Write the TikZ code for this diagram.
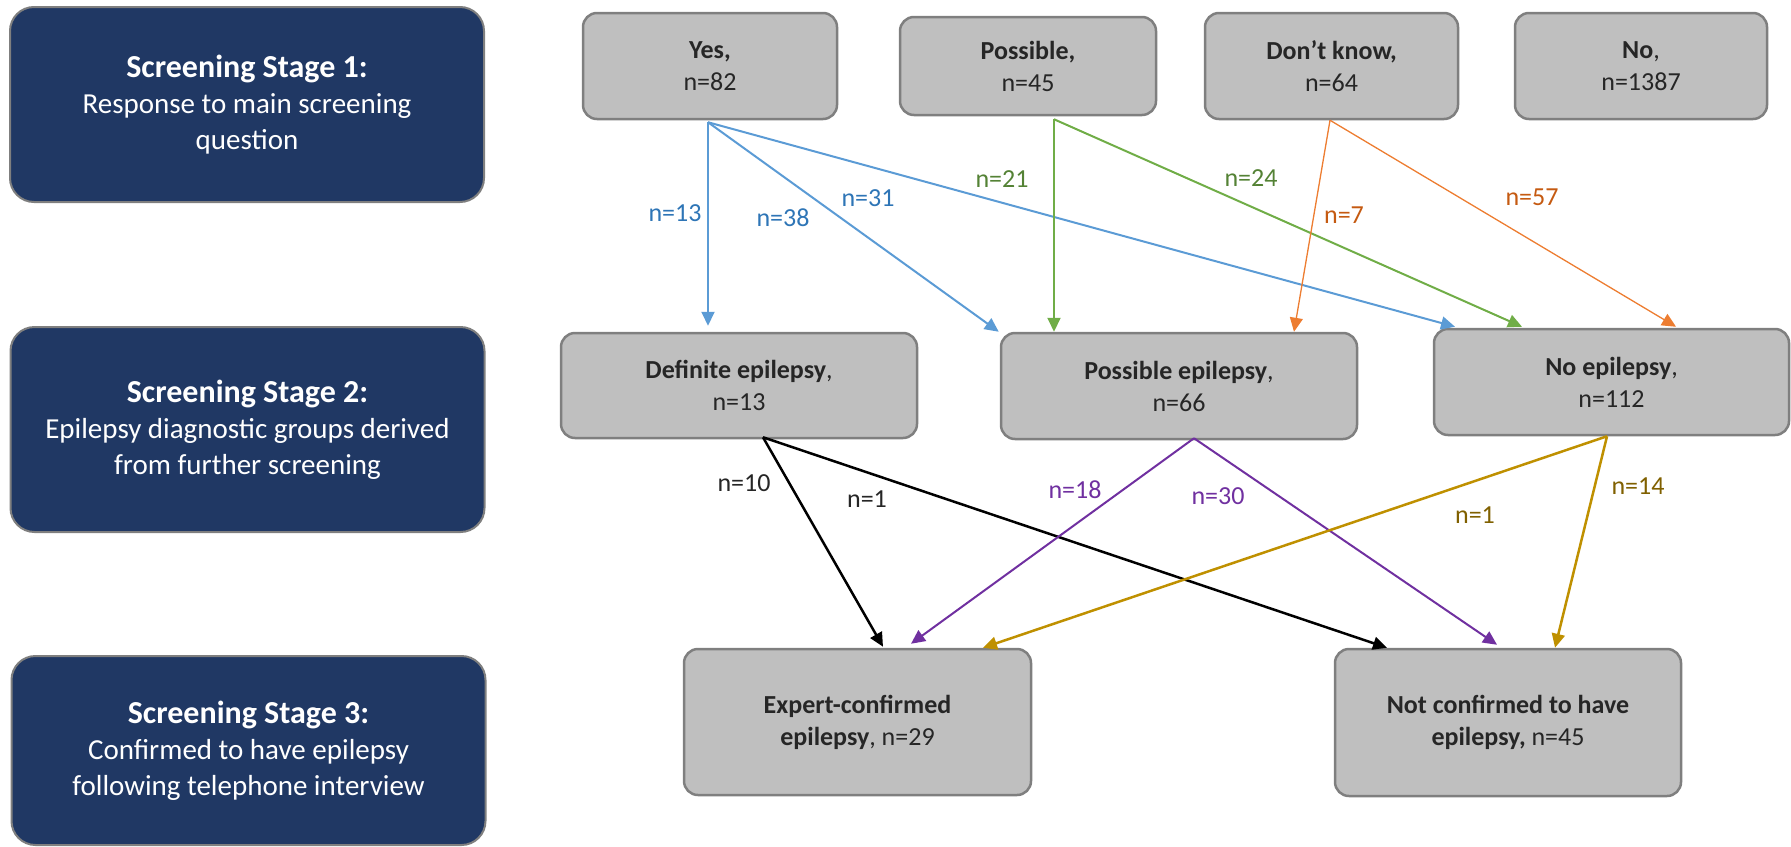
\documentclass[tikz,border=0pt]{standalone}
\usepackage{fontspec}
\setmainfont{Carlito}
\usetikzlibrary{arrows.meta}
\definecolor{navy}{HTML}{203864}
\definecolor{navyborder}{HTML}{7F7F7F}
\definecolor{gfill}{HTML}{BFBFBF}
\definecolor{gborder}{HTML}{7F7F7F}
\definecolor{gtext}{HTML}{262626}
\definecolor{cblue}{HTML}{5B9BD5}
\definecolor{tblue}{HTML}{2E75B6}
\definecolor{cgreen}{HTML}{70AD47}
\definecolor{tgreen}{HTML}{548235}
\definecolor{corange}{HTML}{ED7D31}
\definecolor{torange}{HTML}{C55A11}
\definecolor{cpurple}{HTML}{7030A0}
\definecolor{cgold}{HTML}{BF9000}
\definecolor{tgold}{HTML}{806000}
\newcommand{\stagetitle}[1]{{\fontsize{32}{36}\selectfont\bfseries #1}}
\tikzset{
  stagebox/.style={draw=navyborder, line width=2pt, fill=navy, rounded corners=24pt,
    minimum width=474pt, text=white, align=center, inner sep=0pt,
    font=\fontsize{29}{36}\selectfont},
  gbox/.style={draw=gborder, line width=2.5pt, fill=gfill, rounded corners=14pt,
    align=center, inner sep=0pt, text=gtext, font=\fontsize{26}{32}\selectfont},
  lbl/.style={font=\fontsize{26}{32}\selectfont, inner sep=0pt},
  conn/.style={-{Triangle[length=14pt,width=13pt]}},
  ablue/.style={conn, draw=cblue, fill=cblue, line width=2pt},
  agreen/.style={conn, draw=cgreen, fill=cgreen, line width=2pt},
  aorange/.style={conn, draw=corange, fill=corange, line width=1.3pt},
  ablack/.style={conn, draw=black, fill=black, line width=2.5pt},
  apurple/.style={conn, draw=cpurple, fill=cpurple, line width=2pt},
  agold/.style={conn, draw=cgold, fill=cgold, line width=2.5pt},
}
\begin{document}
\begin{tikzpicture}[x=1pt,y=-1pt]
\useasboundingbox (0,0) rectangle (1791,846);
% stage boxes
\node[stagebox, minimum height=195pt] (s1) at (247,104.5)
  {\stagetitle{Screening Stage 1:}\\Response to main screening\\question};
\node[stagebox, minimum height=205pt] (s2) at (247.5,429.5)
  {\stagetitle{Screening Stage 2:}\\Epilepsy diagnostic groups derived\\from further screening};
\node[stagebox, minimum height=189pt] (s3) at (248.5,750.5)
  {\stagetitle{Screening Stage 3:}\\Confirmed to have epilepsy\\following telephone interview};
% top row
\node[gbox, minimum width=254pt, minimum height=106pt] (yes) at (710,66) {\textbf{Yes,}\\n=82};
\node[gbox, minimum width=256pt, minimum height=98pt] (pos) at (1028,66) {\textbf{Possible,}\\n=45};
\node[gbox, minimum width=253pt, minimum height=106pt] (dk) at (1331.5,66) {\textbf{Don’t know,}\\n=64};
\node[gbox, minimum width=252pt, minimum height=106pt] (no) at (1641,66) {\textbf{No},\\n=1387};
% middle row
\node[gbox, minimum width=356pt, minimum height=105pt] (defi) at (739,385.5) {\textbf{Definite epilepsy},\\n=13};
\node[gbox, minimum width=356pt, minimum height=106pt] (posepi) at (1179,386) {\textbf{Possible epilepsy},\\n=66};
\node[gbox, minimum width=355pt, minimum height=106pt] (noepi) at (1611.5,382) {\textbf{No epilepsy},\\n=112};
% bottom row
\node[gbox, minimum width=347pt, minimum height=146pt] (expert) at (857.5,722) {\textbf{Expert-confirmed}\\\textbf{epilepsy}, n=29};
\node[gbox, minimum width=346pt, minimum height=147pt] (notconf) at (1508,722.5) {\textbf{Not confirmed to have}\\\textbf{epilepsy,} n=45};
% arrows from Yes
\draw[ablue] ([xshift=-2pt,yshift=-2pt]yes.south) -- ([xshift=-31pt,yshift=6pt]defi.north);
\draw[ablue] ([xshift=-2pt,yshift=-2pt]yes.south) -- ([xshift=-1pt,yshift=0pt]posepi.north west);
\draw[ablue] ([xshift=-2pt,yshift=-2pt]yes.south) -- ([xshift=-156.5pt,yshift=1pt]noepi.north);
% arrows from Possible
\draw[agreen] ([xshift=26pt,yshift=-3pt]pos.south) -- ([xshift=-125pt,yshift=0pt]posepi.north);
\draw[agreen] ([xshift=26pt,yshift=-3pt]pos.south) -- ([xshift=-89.5pt,yshift=1pt]noepi.north);
% arrows from Don't know
\draw[aorange] ([xshift=-1.5pt]dk.south) -- ([xshift=115pt,yshift=0pt]posepi.north);
\draw[aorange] ([xshift=-1.5pt]dk.south) -- ([xshift=64.5pt,yshift=1pt]noepi.north);
% arrows from Definite
\draw[ablack] ([xshift=24pt,yshift=2pt]defi.south) -- ([xshift=25.5pt,yshift=1pt]expert.north);
\draw[ablack] ([xshift=24pt,yshift=2pt]defi.south) -- ([xshift=-121pt,yshift=0pt]notconf.north);
% arrows from Possible epilepsy
\draw[apurple] ([xshift=15pt,yshift=2pt]posepi.south) -- ([xshift=53.5pt,yshift=4pt]expert.north);
\draw[apurple] ([xshift=15pt,yshift=2pt]posepi.south) -- ([xshift=-11pt,yshift=3pt]notconf.north);
% arrows from No epilepsy
\draw[agold] ([xshift=-4.5pt]noepi.south) -- ([xshift=125.5pt,yshift=0pt]expert.north);
\draw[agold] ([xshift=-4.5pt]noepi.south) -- ([xshift=47pt,yshift=0pt]notconf.north);
% labels
\node[lbl, text=tblue] (l13) at (675,213) {n=13};
\node[lbl, text=tblue] (l38) at (783,218) {n=38};
\node[lbl, text=tblue] (l31) at (868,198) {n=31};
\node[lbl, text=tgreen] (l21) at (1002,179) {n=21};
\node[lbl, text=tgreen] (l24) at (1251,178) {n=24};
\node[lbl, text=torange] (l7) at (1344,215) {n=7};
\node[lbl, text=torange] (l57) at (1532,197) {n=57};
\node[lbl, text=gtext] (l10) at (744,483) {n=10};
\node[lbl, text=gtext] (l1a) at (867,499) {n=1};
\node[lbl, text=cpurple] (l18) at (1075,490) {n=18};
\node[lbl, text=cpurple] (l30) at (1218,496) {n=30};
\node[lbl, text=tgold] (l1b) at (1475,515) {n=1};
\node[lbl, text=tgold] (l14) at (1638,486) {n=14};
\end{tikzpicture}
\end{document}
